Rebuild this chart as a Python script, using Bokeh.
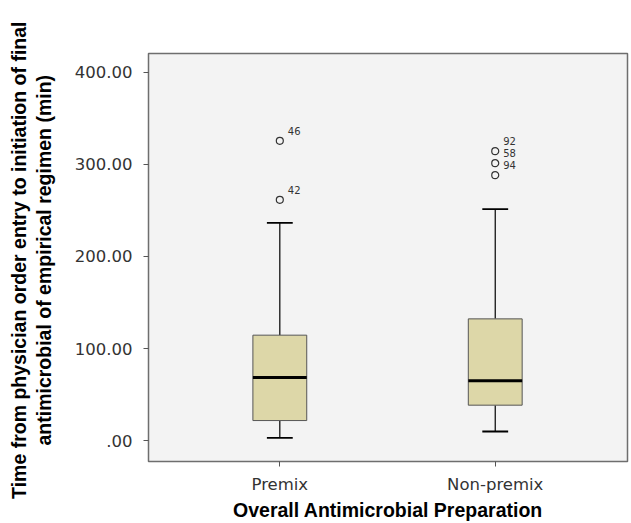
from bokeh.plotting import figure
from bokeh.models import ColumnDataSource, FixedTicker, Range1d
from bokeh.core.properties import value
from bokeh.embed import file_html
from bokeh.resources import INLINE

# ---- data ----
groups = ["Premix", "Non-premix"]
group_pos = [1, 2]
q1 = [21.7, 38.4]
median = [68.5, 64.9]
q3 = [114.5, 132.2]
whisker_low = [2.9, 9.8]
whisker_high = [236.6, 251.4]
outlier_group = [1, 1, 2, 2, 2]
outlier_values = [325.7, 261.6, 314.5, 301.4, 288.4]
outlier_ids = ["46", "42", "92", "58", "94"]
y_ticks = [0, 100, 200, 300, 400]
y_tick_labels = [".00", "100.00", "200.00", "300.00", "400.00"]
y_title_lines = ["Time from physician order entry to initiation of final",
                 "antimicrobial of empirical regimen (min)"]
x_title = "Overall Antimicrobial Preparation"

box_w = 0.25
cap_half = 0.06

box_src = ColumnDataSource(dict(
    x=group_pos, q1=q1, q3=q3, med=median, lo=whisker_low, hi=whisker_high,
    xl=[g - box_w / 2 for g in group_pos], xr=[g + box_w / 2 for g in group_pos],
    cl=[g - cap_half for g in group_pos], cr=[g + cap_half for g in group_pos],
))
out_src = ColumnDataSource(dict(x=outlier_group, y=outlier_values, t=outlier_ids))

p = figure(width=631, height=523, output_backend="svg", toolbar_location=None,
           x_range=Range1d(0.3904, 2.614), y_range=Range1d(-22.8, 420.6),
           min_border_left=148, min_border_right=4, min_border_top=53, min_border_bottom=62)

p.background_fill_color = "#F3F3F3"
p.border_fill_color = "white"
p.outline_line_color = "#6E6E6E"
p.outline_line_width = 1.5
p.xgrid.visible = False
p.ygrid.visible = False

# whiskers
p.segment(x0="x", y0="q3", x1="x", y1="hi", source=box_src, line_color="black", line_width=1.2)
p.segment(x0="x", y0="q1", x1="x", y1="lo", source=box_src, line_color="black", line_width=1.2)
p.segment(x0="cl", y0="hi", x1="cr", y1="hi", source=box_src, line_color="black", line_width=1.8)
p.segment(x0="cl", y0="lo", x1="cr", y1="lo", source=box_src, line_color="black", line_width=1.8)
# boxes
p.vbar(x="x", width=box_w, bottom="q1", top="q3", source=box_src,
       fill_color="#DDD7A8", line_color="#555555", line_width=1)
# medians
p.segment(x0="xl", y0="med", x1="xr", y1="med", source=box_src, line_color="black", line_width=3)
# outliers
p.scatter(x="x", y="y", source=out_src, marker="circle", size=7,
          fill_color=None, line_color="#333333", line_width=1.2)
p.text(x="x", y="y", text="t", source=out_src, x_offset=8, y_offset=-10,
       text_font=value("DejaVu Sans"), text_font_size="10px", text_color="#333333",
       text_align="left", text_baseline="middle")

# axes
p.yaxis.ticker = FixedTicker(ticks=y_ticks)
p.yaxis.major_label_overrides = {t: l for t, l in zip(y_ticks, y_tick_labels)}
p.xaxis.ticker = FixedTicker(ticks=group_pos)
p.xaxis.major_label_overrides = {g: n for g, n in zip(group_pos, groups)}
for ax in (p.xaxis, p.yaxis):
    ax.axis_line_color = None
    ax.major_tick_line_color = "#555555"
    ax.major_tick_in = 0
    ax.major_tick_out = 5
    ax.minor_tick_line_color = None
    ax.major_label_text_font = "DejaVu Sans"
    ax.major_label_text_color = "#333333"
    ax.axis_label_text_font = "Liberation Sans"
    ax.axis_label_text_font_size = "19.5px"
    ax.axis_label_text_font_style = "bold"
    ax.axis_label_text_color = "black"

p.yaxis.major_label_text_font_size = "16.5px"
p.xaxis.major_label_text_font_size = "16.5px"
p.yaxis.major_label_standoff = 11
# a trailing space nudges the centred rotated label slightly toward the frame's centre
p.yaxis.axis_label = "\n".join(line + " " for line in y_title_lines)
p.yaxis.axis_label_text_line_height = 1.14
p.yaxis.axis_label_standoff = 17
p.xaxis.major_label_standoff = 8
p.xaxis.axis_label = x_title
p.xaxis.axis_label_standoff = 2

open("out.html", "w").write(file_html(p, INLINE))
